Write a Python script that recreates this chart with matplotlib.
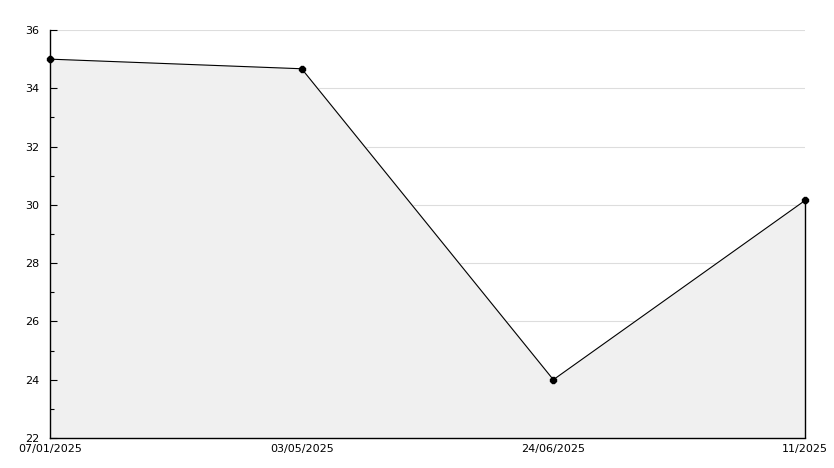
import matplotlib
matplotlib.use("Agg")
import matplotlib.pyplot as plt
from matplotlib.ticker import MultipleLocator

labels = ["07/01/2025", "03/05/2025", "24/06/2025", "11/2025"]
values = [35.0, 34.67, 24.0, 30.15]
grid_levels = [24, 26, 28, 30, 32, 34, 36]

fig = plt.figure(figsize=(8.34, 4.68), dpi=100)
ax = fig.add_axes([50/834, 30/468, 755/834, 408/468])
x = list(range(len(values)))

for g in grid_levels:
    ax.axhline(g, color="#dddddd", linewidth=0.8, zorder=0)
ax.fill_between(x, values, 22, color="#f0f0f0", zorder=1)
ax.plot(x, values, color="black", linewidth=0.8, marker="8", markersize=4.5, zorder=3, clip_on=False)
ax.vlines(x[-1], 22, values[-1], color="black", linewidth=1.0, zorder=3, clip_on=False)

ax.set_xlim(0, len(values) - 1)
ax.set_ylim(22, 36)
ax.yaxis.set_major_locator(MultipleLocator(2))
ax.yaxis.set_minor_locator(MultipleLocator(1))
ax.set_axisbelow(False)

ax.set_xticks(x)
ax.set_xticklabels(labels)
ax.tick_params(axis="y", which="major", direction="in", length=5, width=0.8, labelsize=8, pad=8)
ax.tick_params(axis="y", which="minor", direction="in", length=3, width=0.8)
ax.tick_params(axis="x", length=0, labelsize=8, pad=4)

for s in ["top", "right"]:
    ax.spines[s].set_visible(False)
for s in ["left", "bottom"]:
    ax.spines[s].set_linewidth(1.0)
    ax.spines[s].set_zorder(4)

fig.savefig("out.png", dpi=100)
